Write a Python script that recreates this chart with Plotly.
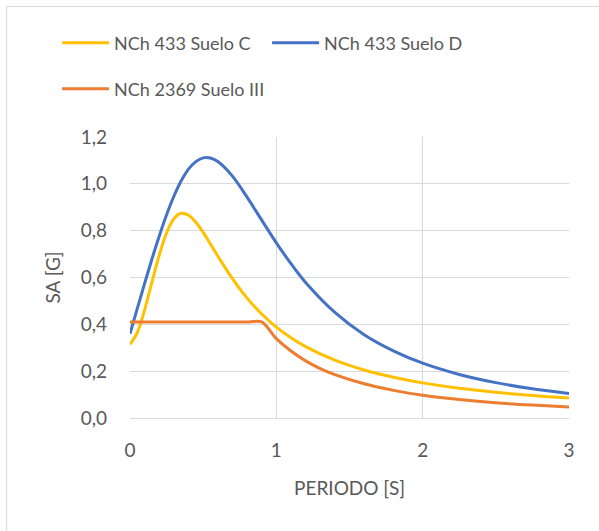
import plotly.graph_objects as go

# periods [s] and spectral accelerations [g]
periodo_433 = [0, 0.05, 0.1, 0.15, 0.2, 0.25, 0.3, 0.35, 0.4, 0.45, 0.5, 0.55, 0.6,
               0.7, 0.8, 0.9, 1.0, 1.1, 1.2, 1.4, 1.6, 1.8, 2.0, 2.25, 2.5, 2.75, 3.0]
sa_suelo_c = [0.315, 0.365, 0.462, 0.580, 0.696, 0.790, 0.851, 0.874, 0.866, 0.836, 0.793,
              0.743, 0.692, 0.595, 0.512, 0.444, 0.388, 0.343, 0.305, 0.247, 0.205, 0.174,
              0.150, 0.127, 0.110, 0.096, 0.085]
sa_suelo_d = [0.360, 0.468, 0.575, 0.679, 0.777, 0.868, 0.947, 1.013, 1.063, 1.095, 1.111,
              1.110, 1.095, 1.033, 0.943, 0.845, 0.748, 0.659, 0.579, 0.451, 0.356, 0.287,
              0.234, 0.186, 0.151, 0.125, 0.105]

periodo_2369 = [0, 0.2, 0.4, 0.6, 0.7, 0.8, 0.9, 1.0, 1.1, 1.2, 1.3, 1.4, 1.6, 1.8, 2.0,
                2.25, 2.5, 2.75, 3.0]
sa_suelo_iii = [0.41, 0.41, 0.41, 0.41, 0.41, 0.41, 0.41, 0.339, 0.286, 0.244, 0.211, 0.185,
                0.146, 0.118, 0.097, 0.079, 0.065, 0.055, 0.047]

x_ticks = [0, 1, 2, 3]
y_ticks = [0, 0.2, 0.4, 0.6, 0.8, 1.0, 1.2]
y_ticktext = ["0,0", "0,2", "0,4", "0,6", "0,8", "1,0", "1,2"]

FONT = "Lato"
GREY_TXT = "#595959"
GRID = "#D9D9D9"

W, H = 599, 531
L, R, T, B = 130, 29.5, 137, 113
pw, ph = W - L - R, H - T - B


def px_x(p):
    return (p - L) / pw


def px_y(p):
    return (H - B - p) / ph


fig = go.Figure()
fig.add_trace(go.Scatter(x=periodo_433, y=sa_suelo_c, mode="lines", name="NCh 433 Suelo C",
                         line=dict(color="#FFC000", width=3, shape="spline"), legend="legend"))
fig.add_trace(go.Scatter(x=periodo_433, y=sa_suelo_d, mode="lines", name="NCh 433 Suelo D",
                         line=dict(color="#4472C4", width=3, shape="spline"), legend="legend"))
fig.add_trace(go.Scatter(x=periodo_2369, y=sa_suelo_iii, mode="lines", name="NCh 2369 Suelo III",
                         line=dict(color="#ED7D31", width=3, shape="spline", smoothing=0.8),
                         legend="legend2"))

leg = dict(orientation="h", xanchor="left", yanchor="middle", bgcolor="rgba(0,0,0,0)",
           font=dict(family=FONT, size=18, color=GREY_TXT), entrywidth=148, itemwidth=47)
fig.update_layout(
    width=W, height=H,
    paper_bgcolor="white", plot_bgcolor="white",
    separators=", ",
    margin=dict(l=L, r=R, t=T, b=B),
    font=dict(family=FONT, size=19, color=GREY_TXT),
    legend=dict(leg, x=px_x(57), y=px_y(43)),
    legend2=dict(leg, x=px_x(57), y=px_y(89)),
    shapes=[dict(type="rect", xref="paper", yref="paper",
                 x0=px_x(6.5), y0=px_y(6.5), x1=px_x(640), y1=px_y(560),
                 line=dict(color=GRID, width=1), layer="below")],
)
fig.update_xaxes(range=[0, 3], tickvals=x_ticks, showgrid=True, gridcolor=GRID, gridwidth=1,
                 zeroline=False, showline=True, linecolor=GRID, mirror=False,
                 ticklabelstandoff=15, tickfont=dict(size=19),
                 title=dict(text="PERIODO [S]", standoff=21, font=dict(size=19)))
fig.update_yaxes(range=[0, 1.2], tickvals=y_ticks, ticktext=y_ticktext, showgrid=True,
                 gridcolor=GRID, gridwidth=1, zeroline=False, showline=False,
                 ticklabelstandoff=22, tickfont=dict(size=19),
                 title=dict(text="SA [G]", standoff=14, font=dict(size=19)))

# page body has a default 8px margin; drop it so the figure sits at the window corner
fig.write_html("out.html", config={"displayModeBar": False},
               post_script="document.body.style.margin='0';")
